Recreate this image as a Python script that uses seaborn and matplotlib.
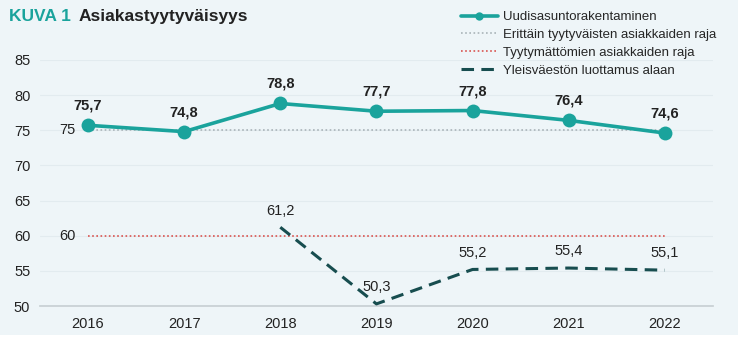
import matplotlib
matplotlib.use("Agg")
import matplotlib.pyplot as plt
from matplotlib.patches import Rectangle
import seaborn as sns
import pandas as pd

years = ["2016", "2017", "2018", "2019", "2020", "2021", "2022"]
new_housing = [75.7, 74.8, 78.8, 77.7, 77.8, 76.4, 74.6]
public_trust_years = ["2018", "2019", "2020", "2021", "2022"]
public_trust = [61.2, 50.3, 55.2, 55.4, 55.1]
very_satisfied_limit = 75
dissatisfied_limit = 60
y_ticks = [50, 55, 60, 65, 70, 75, 80, 85]

sns.set_theme(style="white")
plt.rcParams["font.family"] = ["Liberation Sans", "DejaVu Sans"]

bg = "#eef5f8"
teal = "#1aa39c"
dark = "#174d4f"
txt = "#222222"

fig = plt.figure(figsize=(7.46, 3.39), dpi=100, facecolor="white")
# light panel behind the whole chart
fig.patches.append(Rectangle((0, 4 / 339), 738 / 746, 1 - 4 / 339, transform=fig.transFigure,
                             facecolor=bg, edgecolor="none", zorder=-10))
ax = fig.add_axes([0.0536, 0.0973, 0.902, 0.726], facecolor=bg)

xpos = {y: i for i, y in enumerate(years)}
df_main = pd.DataFrame({"x": [xpos[y] for y in years], "v": new_housing})
df_trust = pd.DataFrame({"x": [xpos[y] for y in public_trust_years], "v": public_trust})
df_hi = pd.DataFrame({"x": [xpos[y] for y in years], "v": [very_satisfied_limit] * len(years)})
df_lo = pd.DataFrame({"x": [xpos[y] for y in years], "v": [dissatisfied_limit] * len(years)})

sns.lineplot(data=df_hi, x="x", y="v", ax=ax, color="#a9b3b8", lw=1.2,
             linestyle=(0, (1, 1.5)), label="Erittäin tyytyväisten asiakkaiden raja", zorder=2)
sns.lineplot(data=df_lo, x="x", y="v", ax=ax, color="#d9534f", lw=1.2,
             linestyle=(0, (1, 1.5)), label="Tyytymättömien asiakkaiden raja", zorder=2)
sns.lineplot(data=df_main, x="x", y="v", ax=ax, color=teal, lw=2.6, marker="o",
             markersize=10, markeredgewidth=0, label="Uudisasuntorakentaminen", zorder=4)
sns.lineplot(data=df_trust, x="x", y="v", ax=ax, color=dark, lw=2.2,
             linestyle=(0, (4.1, 2.4)), label="Yleisväestön luottamus alaan", zorder=3)

fmt = lambda v: f"{v:.1f}".replace(".", ",")
for x, v in zip(df_main["x"], df_main["v"]):
    ax.annotate(fmt(v), (x, v), xytext=(0, 9), textcoords="offset points",
                ha="center", va="bottom", fontsize=10.5, fontweight="bold", color=txt)
for x, v in zip(df_trust["x"], df_trust["v"]):
    ax.annotate(fmt(v), (x, v), xytext=(0, 7), textcoords="offset points",
                ha="center", va="bottom", fontsize=10.5, color=txt)

ax.annotate(str(very_satisfied_limit), (0, very_satisfied_limit), xytext=(-9, 0),
            textcoords="offset points", ha="right", va="center", fontsize=10.5, color=txt)
ax.annotate(str(dissatisfied_limit), (0, dissatisfied_limit), xytext=(-9, 0),
            textcoords="offset points", ha="right", va="center", fontsize=10.5, color=txt)

ax.set_xlim(-0.5, len(years) - 0.5)
ax.set_ylim(50, 85)
ax.set_yticks(y_ticks)
ax.set_xticks(range(len(years)))
ax.set_xticklabels(years)
ax.tick_params(axis="both", labelsize=10.5, colors=txt, length=0)
ax.tick_params(axis="y", pad=7)
ax.tick_params(axis="x", pad=8)
ax.set_xlabel("")
ax.set_ylabel("")
ax.yaxis.grid(True, color="#e2ebef", lw=0.8)
for s in ["top", "right", "left"]:
    ax.spines[s].set_visible(False)
ax.spines["bottom"].set_color("#c8d0d4")

handles, labels = ax.get_legend_handles_labels()
order = [labels.index(l) for l in ["Uudisasuntorakentaminen",
                                   "Erittäin tyytyväisten asiakkaiden raja",
                                   "Tyytymättömien asiakkaiden raja",
                                   "Yleisväestön luottamus alaan"]]
leg = ax.legend([handles[i] for i in order], [labels[i] for i in order],
                loc="upper left", bbox_to_anchor=(461 / 746, 1 - 11 / 339),
                bbox_transform=fig.transFigure, frameon=False,
                fontsize=9.5, handlelength=2.8, handletextpad=0.4, labelspacing=0.42,
                borderaxespad=0, borderpad=0)
for h in leg.legend_handles:
    if h.get_marker() == "o":
        h.set_markersize(6)

fig.text(0.012, 0.952, "KUVA 1", color=teal, fontsize=12.5, fontweight="bold", va="center")
fig.text(79 / 746, 0.952, "Asiakastyytyväisyys", color=txt, fontsize=12.5, fontweight="bold", va="center")

fig.savefig("out.png", dpi=100, facecolor="white")
